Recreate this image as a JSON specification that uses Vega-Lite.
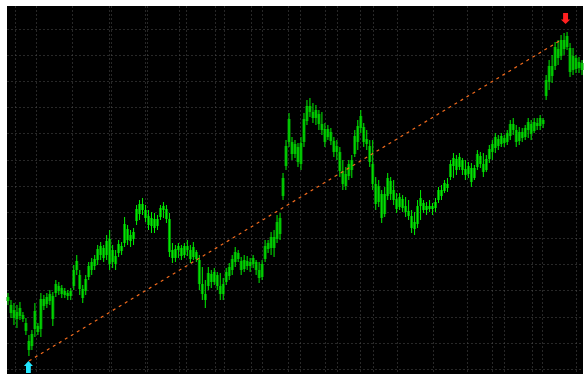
{
  "$schema": "https://vega.github.io/schema/vega-lite/v6.json",
  "width": 584,
  "height": 374,
  "autosize": {"type": "fit", "contains": "padding"},
  "padding": {"left": 6, "top": 6, "right": 0, "bottom": 0},
  "background": "#ffffff",
  "config": {"view": {"fill": "#000000", "stroke": null}},
  "datasets": {
    "bars": [
      {"x":1,"o":77,"h":81,"l":69,"c":73},{"x":4,"o":69,"h":74,"l":56,"c":61},{"x":7,"o":64,"h":71,"l":49,"c":56},{"x":10,"o":55,"h":69,"l":46,"c":62},
      {"x":13,"o":66,"h":72,"l":54,"c":58},{"x":16,"o":59,"h":62,"l":52,"c":55},{"x":19,"o":51,"h":56,"l":39,"c":43},{"x":22,"o":33,"h":39,"l":18,"c":24},
      {"x":25,"o":28,"h":44,"l":24,"c":40},{"x":28,"o":45,"h":71,"l":37,"c":63},{"x":31,"o":48,"h":51,"l":39,"c":42},{"x":34,"o":45,"h":81,"l":37,"c":75},
      {"x":37,"o":68,"h":79,"l":64,"c":75},{"x":40,"o":70,"h":81,"l":66,"c":77},{"x":43,"o":73,"h":84,"l":69,"c":80},{"x":46,"o":78,"h":82,"l":48,"c":55},
      {"x":49,"o":81,"h":94,"l":77,"c":90},{"x":52,"o":88,"h":92,"l":79,"c":83},{"x":55,"o":86,"h":89,"l":76,"c":80},{"x":58,"o":83,"h":86,"l":76,"c":79},
      {"x":61,"o":78,"h":84,"l":74,"c":81},{"x":64,"o":78,"h":86,"l":74,"c":83},{"x":67,"o":88,"h":109,"l":84,"c":104},{"x":70,"o":113,"h":119,"l":99,"c":104},
      {"x":73,"o":99,"h":104,"l":79,"c":85},{"x":76,"o":85,"h":89,"l":71,"c":76},{"x":79,"o":83,"h":99,"l":79,"c":95},{"x":82,"o":97,"h":112,"l":94,"c":108},
      {"x":85,"o":104,"h":116,"l":99,"c":112},{"x":88,"o":108,"h":119,"l":104,"c":115},{"x":91,"o":114,"h":129,"l":109,"c":125},{"x":94,"o":119,"h":132,"l":114,"c":128},
      {"x":97,"o":126,"h":129,"l":112,"c":116},{"x":100,"o":119,"h":139,"l":114,"c":133},{"x":103,"o":135,"h":144,"l":104,"c":110},{"x":106,"o":112,"h":129,"l":106,"c":124},
      {"x":109,"o":118,"h":124,"l":104,"c":110},{"x":112,"o":121,"h":134,"l":117,"c":130},{"x":115,"o":128,"h":132,"l":119,"c":123},{"x":118,"o":131,"h":157,"l":127,"c":150},
      {"x":121,"o":145,"h":149,"l":129,"c":134},{"x":124,"o":133,"h":144,"l":127,"c":139},{"x":127,"o":135,"h":146,"l":129,"c":142},{"x":130,"o":153,"h":169,"l":149,"c":165},
      {"x":133,"o":160,"h":174,"l":154,"c":170},{"x":136,"o":170,"h":176,"l":159,"c":164},{"x":139,"o":164,"h":169,"l":152,"c":156},{"x":142,"o":158,"h":164,"l":144,"c":149},
      {"x":145,"o":148,"h":162,"l":141,"c":156},{"x":148,"o":155,"h":161,"l":141,"c":146},{"x":151,"o":148,"h":159,"l":144,"c":155},{"x":154,"o":157,"h":169,"l":154,"c":166},
      {"x":157,"o":164,"h":172,"l":156,"c":168},{"x":160,"o":165,"h":169,"l":151,"c":155},{"x":163,"o":155,"h":161,"l":117,"c":122},{"x":166,"o":124,"h":131,"l":111,"c":116},
      {"x":169,"o":116,"h":129,"l":112,"c":125},{"x":172,"o":124,"h":131,"l":116,"c":128},{"x":175,"o":126,"h":129,"l":114,"c":118},{"x":178,"o":119,"h":131,"l":116,"c":128},
      {"x":181,"o":128,"h":134,"l":118,"c":124},{"x":184,"o":124,"h":129,"l":111,"c":115},{"x":187,"o":117,"h":132,"l":114,"c":127},{"x":190,"o":122,"h":124,"l":112,"c":115},
      {"x":193,"o":114,"h":119,"l":84,"c":90},{"x":196,"o":90,"h":107,"l":74,"c":80},{"x":199,"o":80,"h":94,"l":66,"c":74},{"x":202,"o":88,"h":107,"l":84,"c":101},
      {"x":205,"o":100,"h":104,"l":86,"c":92},{"x":208,"o":92,"h":106,"l":89,"c":102},{"x":211,"o":99,"h":102,"l":84,"c":88},{"x":214,"o":88,"h":101,"l":74,"c":80},
      {"x":217,"o":80,"h":96,"l":74,"c":90},{"x":220,"o":92,"h":106,"l":89,"c":102},{"x":223,"o":98,"h":111,"l":94,"c":107},{"x":226,"o":104,"h":119,"l":99,"c":115},
      {"x":229,"o":112,"h":127,"l":107,"c":122},{"x":232,"o":121,"h":124,"l":112,"c":115},{"x":235,"o":113,"h":117,"l":99,"c":104},{"x":238,"o":105,"h":119,"l":102,"c":114},
      {"x":241,"o":113,"h":118,"l":104,"c":108},{"x":244,"o":108,"h":116,"l":102,"c":112},{"x":247,"o":110,"h":119,"l":106,"c":116},{"x":250,"o":112,"h":114,"l":99,"c":104},
      {"x":253,"o":104,"h":112,"l":91,"c":96},{"x":256,"o":97,"h":114,"l":94,"c":110},{"x":259,"o":115,"h":134,"l":112,"c":128},{"x":262,"o":125,"h":134,"l":121,"c":131},
      {"x":265,"o":126,"h":142,"l":119,"c":137},{"x":268,"o":137,"h":144,"l":117,"c":126},{"x":271,"o":135,"h":159,"l":131,"c":152},{"x":274,"o":140,"h":161,"l":134,"c":156},
      {"x":277,"o":178,"h":201,"l":174,"c":196},{"x":280,"o":208,"h":234,"l":204,"c":228},{"x":283,"o":232,"h":261,"l":227,"c":255},{"x":286,"o":232,"h":237,"l":214,"c":220},
      {"x":289,"o":220,"h":234,"l":216,"c":230},{"x":292,"o":227,"h":231,"l":207,"c":212},{"x":295,"o":210,"h":237,"l":204,"c":231},{"x":298,"o":232,"h":261,"l":227,"c":255},
      {"x":301,"o":253,"h":274,"l":249,"c":268},{"x":304,"o":268,"h":276,"l":257,"c":262},{"x":307,"o":262,"h":271,"l":251,"c":256},{"x":310,"o":256,"h":269,"l":249,"c":264},
      {"x":313,"o":260,"h":264,"l":244,"c":250},{"x":316,"o":250,"h":262,"l":239,"c":244},{"x":319,"o":245,"h":251,"l":227,"c":232},{"x":322,"o":237,"h":249,"l":234,"c":245},
      {"x":325,"o":242,"h":246,"l":229,"c":233},{"x":328,"o":233,"h":237,"l":217,"c":222},{"x":331,"o":222,"h":234,"l":214,"c":228},{"x":334,"o":222,"h":227,"l":197,"c":203},
      {"x":337,"o":203,"h":214,"l":184,"c":190},{"x":340,"o":188,"h":207,"l":184,"c":200},{"x":343,"o":198,"h":214,"l":194,"c":210},{"x":346,"o":204,"h":219,"l":196,"c":214},
      {"x":349,"o":220,"h":244,"l":217,"c":238},{"x":352,"o":232,"h":254,"l":224,"c":248},{"x":355,"o":246,"h":264,"l":241,"c":258},{"x":358,"o":247,"h":251,"l":227,"c":232},
      {"x":361,"o":235,"h":244,"l":224,"c":230},{"x":364,"o":228,"h":234,"l":207,"c":212},{"x":367,"o":210,"h":234,"l":184,"c":190},{"x":370,"o":190,"h":197,"l":164,"c":170},
      {"x":373,"o":172,"h":194,"l":167,"c":188},{"x":376,"o":180,"h":184,"l":151,"c":156},{"x":379,"o":160,"h":187,"l":157,"c":180},{"x":382,"o":178,"h":201,"l":174,"c":196},
      {"x":385,"o":193,"h":197,"l":174,"c":180},{"x":388,"o":184,"h":194,"l":169,"c":174},{"x":391,"o":175,"h":181,"l":161,"c":165},{"x":394,"o":167,"h":181,"l":164,"c":177},
      {"x":397,"o":175,"h":179,"l":162,"c":166},{"x":400,"o":168,"h":177,"l":157,"c":162},{"x":403,"o":163,"h":174,"l":154,"c":158},{"x":406,"o":158,"h":164,"l":141,"c":146},
      {"x":409,"o":145,"h":162,"l":139,"c":152},{"x":412,"o":150,"h":174,"l":146,"c":168},{"x":415,"o":168,"h":184,"l":154,"c":176},{"x":418,"o":171,"h":174,"l":161,"c":164},
      {"x":421,"o":164,"h":172,"l":159,"c":168},{"x":424,"o":168,"h":174,"l":162,"c":165},{"x":427,"o":165,"h":171,"l":159,"c":168},{"x":430,"o":166,"h":176,"l":162,"c":172},
      {"x":433,"o":174,"h":187,"l":171,"c":184},{"x":436,"o":184,"h":189,"l":174,"c":178},{"x":439,"o":183,"h":194,"l":181,"c":191},{"x":442,"o":190,"h":196,"l":182,"c":186},
      {"x":445,"o":197,"h":214,"l":194,"c":210},{"x":448,"o":208,"h":221,"l":196,"c":216},{"x":451,"o":215,"h":219,"l":199,"c":204},{"x":454,"o":207,"h":221,"l":204,"c":217},
      {"x":457,"o":214,"h":216,"l":199,"c":204},{"x":460,"o":205,"h":214,"l":194,"c":199},{"x":463,"o":200,"h":212,"l":196,"c":208},{"x":466,"o":206,"h":211,"l":187,"c":192},
      {"x":469,"o":196,"h":209,"l":194,"c":206},{"x":472,"o":207,"h":224,"l":204,"c":220},{"x":475,"o":218,"h":222,"l":206,"c":210},{"x":478,"o":210,"h":221,"l":197,"c":202},
      {"x":481,"o":204,"h":219,"l":202,"c":215},{"x":484,"o":215,"h":229,"l":211,"c":225},{"x":487,"o":222,"h":234,"l":214,"c":230},{"x":490,"o":226,"h":241,"l":221,"c":237},
      {"x":493,"o":235,"h":239,"l":224,"c":228},{"x":496,"o":230,"h":241,"l":227,"c":238},{"x":499,"o":236,"h":239,"l":227,"c":231},{"x":502,"o":232,"h":244,"l":229,"c":241},
      {"x":505,"o":238,"h":254,"l":234,"c":250},{"x":508,"o":250,"h":256,"l":239,"c":244},{"x":511,"o":244,"h":249,"l":227,"c":232},{"x":514,"o":233,"h":247,"l":229,"c":242},
      {"x":517,"o":242,"h":246,"l":232,"c":236},{"x":520,"o":237,"h":249,"l":234,"c":246},{"x":523,"o":244,"h":256,"l":236,"c":252},{"x":526,"o":250,"h":254,"l":234,"c":240},
      {"x":529,"o":243,"h":256,"l":241,"c":252},{"x":532,"o":251,"h":256,"l":244,"c":248},{"x":535,"o":248,"h":259,"l":244,"c":256},{"x":538,"o":254,"h":256,"l":246,"c":250},
      {"x":541,"o":278,"h":299,"l":274,"c":294},{"x":544,"o":292,"h":314,"l":284,"c":308},{"x":547,"o":308,"h":319,"l":291,"c":298},{"x":550,"o":308,"h":332,"l":304,"c":327},
      {"x":553,"o":325,"h":334,"l":309,"c":316},{"x":556,"o":318,"h":339,"l":314,"c":334},{"x":559,"o":334,"h":341,"l":319,"c":325},{"x":562,"o":327,"h":342,"l":324,"c":338},
      {"x":565,"o":326,"h":331,"l":297,"c":302},{"x":568,"o":304,"h":326,"l":299,"c":318},{"x":571,"o":316,"h":319,"l":301,"c":305},{"x":574,"o":306,"h":317,"l":301,"c":312},
      {"x":577,"o":311,"h":314,"l":299,"c":304}
    ],
    "trend": [{"x": 22, "p": 13}, {"x": 556, "p": 334}],
    "buy": [{"x": 21.5, "p": 7}],
    "sell": [{"x": 560.5, "p": 355.5}]
  },
  "layer": [
    {
      "data": {"name": "bars"},
      "mark": {"type": "bar", "width": 3, "color": "#009a00"},
      "encoding": {
        "x": {"field": "x", "type": "quantitative", "scale": {"domain": [0, 578], "nice": false, "zero": false, "padding": 0},
          "axis": {"values": [8, 29, 65, 102, 104, 138, 140, 173, 180, 209, 218, 245, 256, 282, 294, 319, 331, 354, 367, 391, 427, 462, 487, 499, 527, 537, 571],
            "tickCount": 200, "grid": true, "gridColor": "#505050", "gridDash": [1, 3], "gridWidth": 1, "labels": false, "ticks": false, "domain": false, "title": null}},
        "y": {"field": "o", "type": "quantitative", "scale": {"domain": [0, 368], "nice": false, "zero": false, "padding": 0},
          "axis": {"values": [345, 319, 293, 267, 241, 214, 188, 162, 136, 110, 84, 57, 31, 5],
            "tickCount": 200, "grid": true, "gridColor": "#505050", "gridDash": [1, 3], "gridWidth": 1, "labels": false, "ticks": false, "domain": false, "title": null}},
        "y2": {"field": "c"}
      }
    },
    {
      "data": {"name": "bars"},
      "mark": {"type": "rule", "color": "#00f000", "strokeWidth": 1},
      "encoding": {
        "x": {"field": "x", "type": "quantitative"},
        "y": {"field": "h", "type": "quantitative"},
        "y2": {"field": "l"}
      }
    },
    {
      "data": {"name": "trend"},
      "mark": {"type": "line", "color": "#f26b1d", "strokeWidth": 1.2, "strokeDash": [3, 4]},
      "encoding": {
        "x": {"field": "x", "type": "quantitative"},
        "y": {"field": "p", "type": "quantitative"}
      }
    },
    {
      "data": {"name": "buy"},
      "mark": {"type": "point", "filled": true, "opacity": 1, "color": "#22e6ff", "size": 144,
        "shape": "M0,-1L0.75,-0.17L0.4,-0.17L0.4,1L-0.4,1L-0.4,-0.17L-0.75,-0.17Z"},
      "encoding": {
        "x": {"field": "x", "type": "quantitative"},
        "y": {"field": "p", "type": "quantitative"}
      }
    },
    {
      "data": {"name": "sell"},
      "mark": {"type": "point", "filled": true, "opacity": 1, "color": "#ff2020", "size": 121,
        "shape": "M0,1L0.85,0.17L0.45,0.17L0.45,-1L-0.45,-1L-0.45,0.17L-0.85,0.17Z"},
      "encoding": {
        "x": {"field": "x", "type": "quantitative"},
        "y": {"field": "p", "type": "quantitative"}
      }
    }
  ]
}
